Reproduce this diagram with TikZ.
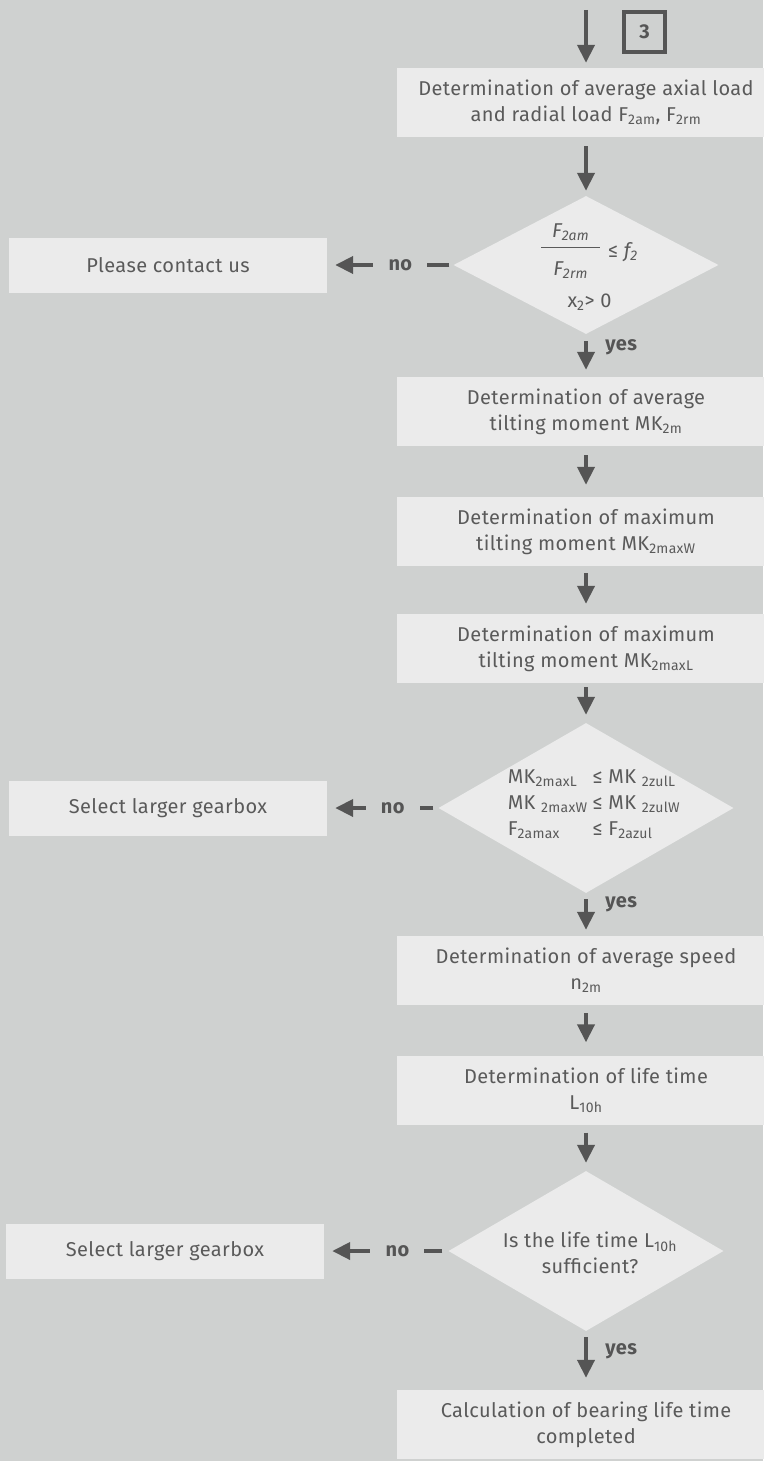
\documentclass[tikz,border=0pt]{standalone}
\usepackage{fontspec}
\setmainfont{Fira Sans}[LetterSpace=2]
\usetikzlibrary{shapes.geometric, arrows.meta}
\definecolor{bg}{HTML}{CFD1D0}
\definecolor{boxfill}{HTML}{EBEBEB}
\definecolor{dark}{HTML}{555555}
\definecolor{txt}{HTML}{5A5A5A}
\newcommand{\lo}[1]{\textsubscript{#1}}
\newcommand{\ratio}[2]{{\renewcommand{\arraystretch}{0.7}%
\begin{tabular}[c]{@{}c@{}}#1\\\rule[7.5pt]{59pt}{0.8pt}\\#2\end{tabular}}}
\newcommand{\bigtext}{\fontsize{20}{26}\selectfont}
\tikzstyle{process} = [rectangle, 
minimum width=378pt, 
minimum height=69pt, 
inner sep=0pt,
align=center, 
text=txt, 
fill=boxfill]
\tikzstyle{stopbox} = [rectangle, 
minimum width=318pt, 
minimum height=55pt, 
text centered, 
text=txt, 
fill=boxfill]
\tikzstyle{decision} = [diamond, 
inner sep=0pt, 
fill=boxfill]
\tikzstyle{cond} = [align=center, text=txt, inner sep=0pt]
\tikzstyle{pageref} = [rectangle, draw=dark, line width=4pt, 
minimum width=41pt, minimum height=40pt, inner sep=0pt, 
text=dark, font=\bigtext\bfseries]
\tikzstyle{arrow} = [line width=4pt, draw=dark, -{Triangle[length=18pt, width=17pt]}]
\tikzstyle{nolabel} = [fill=bg, text=dark, font=\bigtext\bfseries, minimum width=54pt, inner xsep=0pt, pos=0.42]
\tikzstyle{yeslabel} = [text=dark, font=\bigtext\bfseries, anchor=west, xshift=14pt, pos=0.3]

\begin{document}
\begin{tikzpicture}[x=1pt, y=-1pt, font=\bigtext]

% background, page size
\fill[bg] (0,0) rectangle (763,1461);
\useasboundingbox (0,0) rectangle (763,1461);

\coordinate (in3) at (586,10);
\node (sheet3) [pageref] at (644.5,32) {3};

\node (load) [process] at (586,102.5) {Determination of average axial load\\and radial load F\lo{2am}, F\lo{2rm}};
\node (dec1) [decision, minimum width=265pt, minimum height=138pt,
  label={[cond, xshift=3.5pt, yshift=-2pt]center:{\ratio{\itshape F\lo{2am}}{\itshape F\lo{2rm}}\hspace{8pt}≤ \textit{f\lo{2}}\\[12pt]x\lo{2}> 0}}] at (586,265) {};
\node (ask) [stopbox] at (168,265) {Please contact us};

\node (tilt) [process] at (586,411.5) {Determination of average\\tilting moment MK\lo{2m}};
\node (tiltw) [process] at (586,531.5) {Determination of maximum\\tilting moment MK\lo{2maxW}};
\node (tiltl) [process] at (586,648.5) {Determination of maximum\\tilting moment MK\lo{2maxL}};
\node (dec2) [decision, minimum width=295pt, minimum height=170pt,
  label={[cond, xshift=8pt, yshift=4pt]center:{\begin{tabular}{@{}l@{\hspace{5pt}}l@{}}
  MK\lo{2maxL} & ≤ MK \lo{2zulL}\\
  MK \lo{2maxW} & ≤ MK \lo{2zulW}\\
  F\lo{2amax} & ≤ F\lo{2azul}\end{tabular}}}] at (586,808) {};
\node (larger1) [stopbox] at (168,808) {Select larger gearbox};

\node (speed) [process] at (586,970.5) {Determination of average speed\\n\lo{2m}};
\node (life) [process] at (586,1090) {Determination of life time\\L\lo{10h}};
\node (dec3) [decision, minimum width=275pt, minimum height=160pt,
  label={[cond, xshift=4pt, yshift=-2pt]center:{Is the life time L\lo{10h}\\sufficient?}}] at (586,1251) {};
\node (larger2) [stopbox] at (165,1251) {Select larger gearbox};
\node (done) [process] at (586,1424.5) {Calculation of bearing life time\\completed};

\draw [arrow, shorten >=5pt] (in3) -- (load);
\draw [arrow, shorten <=9pt, shorten >=5pt] (load) -- (dec1);
\draw [arrow, shorten <=4pt, shorten >=8pt] (dec1.west) -- node[nolabel] {no\hspace{10pt}} (ask.east);
\draw [arrow, shorten <=7pt, shorten >=7pt] (dec1) -- node[yeslabel] {yes} (tilt);
\draw [arrow, shorten <=9pt, shorten >=12pt] (tilt) -- (tiltw);
\draw [arrow, shorten <=7pt, shorten >=10pt] (tiltw) -- (tiltl);
\draw [arrow, shorten <=4pt, shorten >=8pt] (tiltl) -- (dec2);
\draw [arrow, shorten <=5pt, shorten >=8pt] (dec2.west) -- node[nolabel, pos=0.41] {no\hspace{10pt}} (larger1.east);
\draw [arrow, shorten <=6pt, shorten >=6pt] (dec2) -- node[yeslabel, pos=0.26] {yes} (speed);
\draw [arrow, shorten <=8pt, shorten >=13pt] (speed) -- (life);
\draw [arrow, shorten <=8pt, shorten >=8pt] (life) -- (dec3);
\draw [arrow, shorten <=6pt, shorten >=8pt] (dec3.west) -- node[nolabel, pos=0.41] {no\hspace{10pt}} (larger2.east);
\draw [arrow, shorten <=6pt, shorten >=12pt] (dec3) -- node[yeslabel, pos=0.34] {yes} (done);

\end{tikzpicture}
\end{document}
